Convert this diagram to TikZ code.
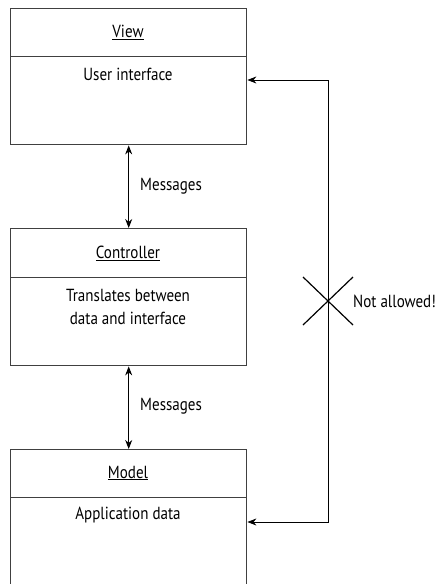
\documentclass[tikz,border=0pt]{standalone}
\usepackage{fontspec}
\setmainfont[FakeStretch=0.86]{PT Sans}
\usetikzlibrary{arrows.meta,calc}
\begin{document}
\begin{tikzpicture}[x=1pt,y=-1pt,
  box/.style={draw=black!75,line width=1.4pt,minimum width=236pt,anchor=north west,inner sep=0pt},
  lbl/.style={font=\fontsize{17.5}{23}\selectfont,align=center,inner sep=0pt},
  conn/.style={line width=0.9pt,{Stealth[length=9pt,width=7pt]}-{Stealth[length=9pt,width=7pt]}},
  cross/.style={line width=1.2pt}]
\clip (0,0) rectangle (436,584);
\useasboundingbox (0,0) rectangle (436,584);
% boxes
\node[box,minimum height=136pt] (view) at (10,8) {};
\node[box,minimum height=137pt] (ctrl) at (10,228) {};
\node[box,minimum height=160pt] (model) at (10,449) {};
\draw[draw=black!75,line width=1pt] (10,56) -- (246,56);
\draw[draw=black!75,line width=1pt] (10,277) -- (246,277);
\draw[draw=black!75,line width=1pt] (10,497) -- (246,497);
% texts
\node[lbl] (vt) at (128,32) {\underline{View}};
\node[lbl] (vd) at (128,74) {User interface};
\node[lbl] (ct) at (128,253) {\underline{Controller}};
\node[lbl] (cd) at (128,307) {Translates between\\data and interface};
\node[lbl] (mt) at (128,473) {\underline{Model}};
\node[lbl] (md) at (128,515) {Application data};
% vertical connectors
\draw[conn] (view.south) -- (ctrl.north);
\draw[conn] (ctrl.south) -- (model.north);
\node[lbl,anchor=west] (m1) at (140,186) {Messages};
\node[lbl,anchor=west] (m2) at (140,406) {Messages};
% not allowed path
\coordinate (c1) at (328,80);
\coordinate (c2) at (328,522);
\draw[conn] (view.east |- c1) -- (c1) -- (c2) -- (model.east |- c2);
\coordinate (xc) at (328,301);
\draw[cross] ($(xc)+(-25,-24)$) -- ($(xc)+(25,24)$);
\draw[cross] ($(xc)+(-25,24)$) -- ($(xc)+(25,-24)$);
\node[lbl,anchor=west] (na) at (353,301) {Not allowed!};
\end{tikzpicture}
\end{document}
